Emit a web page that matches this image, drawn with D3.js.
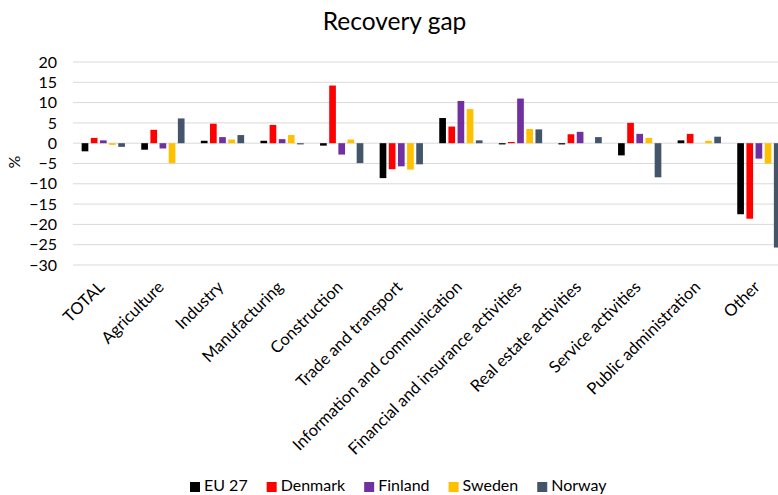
<!DOCTYPE html>
<html>
<head>
<meta charset="utf-8">
<script src="https://cdn.jsdelivr.net/npm/d3@7"></script>
<style>
  html, body { margin: 0; padding: 0; background: #fff; }
  svg { display: block; font-family: Lato, "Open Sans", sans-serif; }
</style>
</head>
<body>
<svg id="chart" width="778" height="495"></svg>
<script>
// Sector categories along the x axis
const categories = [
  "TOTAL", "Agriculture", "Industry", "Manufacturing", "Construction",
  "Trade and transport", "Information and communication",
  "Financial and insurance activities", "Real estate activities",
  "Service activities", "Public administration", "Other"
];

// Series names and their colours
const seriesNames = ["EU 27", "Denmark", "Finland", "Sweden", "Norway"];
const seriesColors = ["#000000", "#ff0000", "#7030a0", "#ffc000", "#44546a"];

// Recovery gap, % (one value per category)
const eu27    = [-2.0, -1.6, 0.6, 0.6, -0.6, -8.6, 6.2, -0.3, -0.3, -3.0, 0.7, -17.5];
const denmark = [1.3, 3.3, 4.8, 4.5, 14.2, -6.4, 4.1, 0.3, 2.2, 5.0, 2.3, -18.6];
const finland = [0.7, -1.3, 1.5, 1.0, -2.8, -5.7, 10.4, 11.0, 2.8, 2.3, 0.0, -3.8];
const sweden  = [-0.4, -4.9, 0.9, 2.0, 0.9, -6.5, 8.4, 3.5, 0.0, 1.3, 0.6, -5.0];
const norway  = [-0.9, 6.1, 2.0, -0.3, -4.9, -5.2, 0.7, 3.4, 1.5, -8.4, 1.6, -25.7];

// Y axis tick values
const yTicks = [20, 15, 10, 5, 0, -5, -10, -15, -20, -25, -30];

const seriesValues = [eu27, denmark, finland, sweden, norway];

const svg = d3.select("#chart");
const plot = { left: 73.5, right: 788.7, top: 62, bottom: 265 };

const x0 = d3.scaleBand().domain(categories).range([plot.left, plot.right]).padding(0);
const x1 = d3.scaleBand().domain(seriesNames)
  .range([8.15, x0.bandwidth() - 8.15]).paddingInner(0.27).paddingOuter(0);
const y = d3.scaleLinear().domain([-30, 20]).range([plot.bottom, plot.top]);

// Title
svg.append("text")
  .attr("x", 394.5).attr("y", 30)
  .attr("text-anchor", "middle")
  .attr("font-size", 24.5).attr("fill", "#000")
  .text("Recovery gap");

// Horizontal gridlines
svg.append("g").selectAll("line").data(yTicks).join("line")
  .attr("x1", 73).attr("x2", 790)
  .attr("y1", d => y(d)).attr("y2", d => y(d))
  .attr("stroke", "#d9d9d9").attr("stroke-width", 1);

// Y axis labels
const yAxis = d3.axisLeft(y).tickValues(yTicks).tickSize(0).tickPadding(0).tickFormat(d3.format("d"));
const yg = svg.append("g").attr("transform", `translate(57,0)`).call(yAxis);
yg.select(".domain").remove();
yg.selectAll("text").attr("font-family", "Lato, sans-serif").attr("font-size", 16).attr("fill", "#000");

// Y axis title
svg.append("text")
  .attr("transform", "translate(20,162) rotate(-90)")
  .attr("text-anchor", "middle")
  .attr("font-size", 16).attr("fill", "#000")
  .text("%");

// Bars
const rows = categories.map((c, i) => ({ cat: c, vals: seriesNames.map((s, j) => ({ s, j, v: seriesValues[j][i] })) }));
const groups = svg.append("g").selectAll("g").data(rows).join("g")
  .attr("transform", d => `translate(${x0(d.cat)},0)`);
groups.selectAll("rect").data(d => d.vals).join("rect")
  .attr("x", d => x1(d.s))
  .attr("width", x1.bandwidth())
  .attr("y", d => y(Math.max(0, d.v)))
  .attr("height", d => Math.abs(y(d.v) - y(0)))
  .attr("fill", d => seriesColors[d.j]);

// Category labels, rotated
svg.append("g").selectAll("text").data(categories).join("text")
  .attr("transform", d => `translate(${x0(d) + x0.bandwidth() / 2 - 2},284) rotate(-45)`)
  .attr("text-anchor", "end")
  .attr("dy", "0.35em")
  .attr("font-size", 16.5).attr("fill", "#000")
  .text(d => d);

// Legend
const legend = svg.append("g");
let lx = 190;
seriesNames.forEach((name, j) => {
  legend.append("rect").attr("x", lx).attr("y", 482).attr("width", 10).attr("height", 10)
    .attr("fill", seriesColors[j]);
  const t = legend.append("text").attr("x", lx + 14).attr("y", 491)
    .attr("font-size", 16).attr("fill", "#000").text(name);
  lx += 14 + t.node().getComputedTextLength() + 19;
});
</script>
</body>
</html>
